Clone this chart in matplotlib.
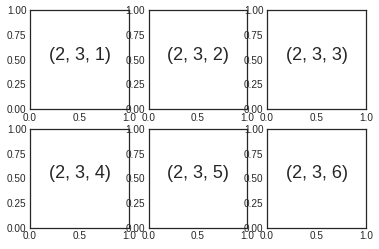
import matplotlib
matplotlib.use("Agg")
import matplotlib.pyplot as plt

plt.style.use("seaborn-v0_8-white")

nrows = 2
ncols = 3
labels = [str((nrows, ncols, i)) for i in range(1, nrows * ncols + 1)]

fig = plt.figure(figsize=(379 / 72, 249 / 72), dpi=72)
fig.subplots_adjust(left=30 / 379, right=366 / 379, top=1 - 10 / 249,
                    bottom=1 - 228 / 249, wspace=0.197, hspace=0.2)
for i, lab in enumerate(labels, start=1):
    ax = plt.subplot(nrows, ncols, i)
    ax.text(0.5, 0.5, lab, fontsize=18, ha='center')  # baseline at centre

fig.savefig("out.png", dpi=72)
